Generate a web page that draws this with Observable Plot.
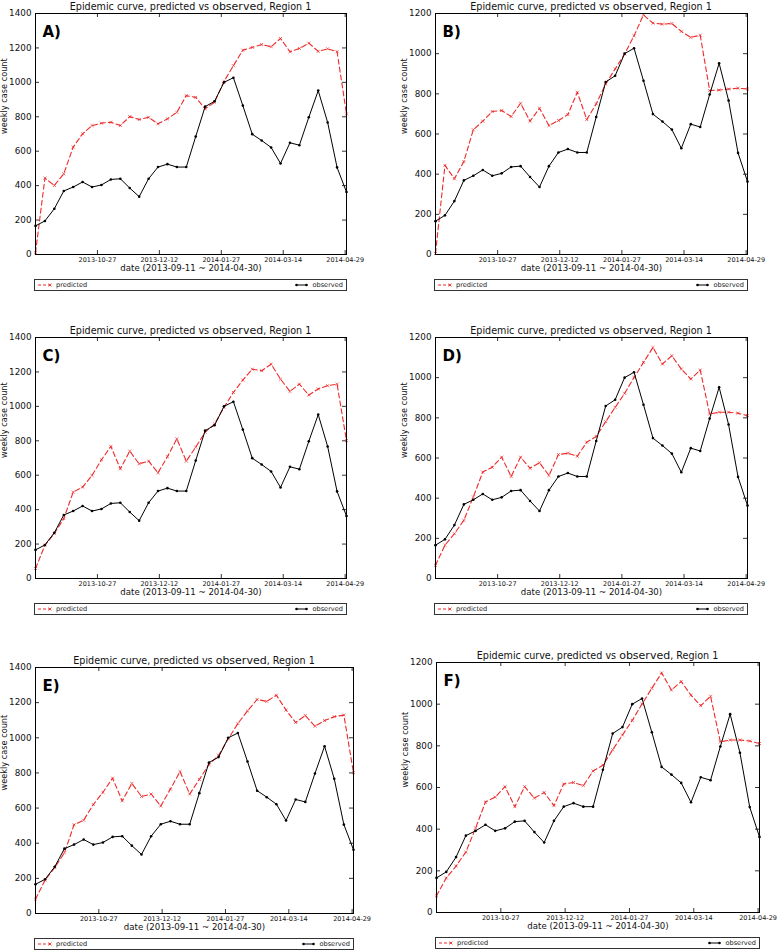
<!DOCTYPE html>
<html>
<head>
<meta charset="utf-8">
<script src="https://cdn.jsdelivr.net/npm/d3@7"></script>
<script src="https://cdn.jsdelivr.net/npm/@observablehq/plot@0.6"></script>
<style>
  html, body { margin: 0; padding: 0; background: #fff; }
  #wrap { position: relative; width: 777px; height: 951px; overflow: hidden; font-family: "DejaVu Sans", sans-serif; color: #111; }
  .svgbox { position: absolute; }
  .title { position: absolute; white-space: nowrap; transform: translate(-50%, -50%); font-size: 9.6px; line-height: 1; }
  .title .big { font-size: 11px; }
  .legend { position: absolute; box-sizing: border-box; border: 1px solid #333; height: 12px; display: flex; justify-content: space-between; align-items: center; padding: 0 3px; font-size: 6.6px; color: #222; }
  .legend .item { display: flex; align-items: center; gap: 4px; }
</style>
</head>
<body>
<div id="wrap"></div>
<script>
// ---- data ----
const startDate = "2013-09-11";
const titleText = ["Epidemic curve, predicted vs ", "observed", ", Region 1"];
const xLabel = "date (2013-09-11 ~ 2014-04-30)";
const yLabel = "weekly case count";
const xTickLabels = ["2013-10-27", "2013-12-12", "2014-01-27", "2014-03-14", "2014-04-29"];
const yTicks1400 = [0, 200, 400, 600, 800, 1000, 1200, 1400];
const yTicks1200 = [0, 200, 400, 600, 800, 1000, 1200];
const panelLetters = ["A)", "B)", "C)", "D)", "E)", "F)"];
const seriesNames = ["predicted", "observed"];

const observed = [166, 195, 266, 369, 392, 421, 392, 404, 436, 440, 386, 336, 440, 508, 525, 508, 508, 685, 859, 890, 1000, 1027, 865, 699, 662, 622, 529, 649, 635, 797, 952, 767, 506, 363];

const predictedA = [10, 444, 401, 469, 624, 701, 749, 763, 768, 749, 801, 784, 797, 759, 788, 826, 923, 913, 846, 885, 1005, 1097, 1187, 1203, 1220, 1207, 1255, 1178, 1197, 1228, 1180, 1195, 1178, 817];
const predictedB = [5, 444, 377, 463, 621, 664, 712, 717, 687, 753, 664, 728, 642, 667, 697, 808, 672, 750, 849, 924, 998, 1089, 1193, 1152, 1147, 1150, 1111, 1081, 1092, 816, 819, 824, 828, 824];
const predictedC = [58, 193, 261, 348, 502, 531, 599, 690, 767, 637, 740, 666, 682, 614, 708, 811, 682, 763, 850, 898, 994, 1081, 1153, 1216, 1207, 1245, 1158, 1087, 1129, 1066, 1101, 1120, 1129, 801];
const predictedD = [66, 166, 223, 290, 406, 530, 554, 604, 508, 604, 549, 576, 513, 617, 624, 609, 679, 707, 781, 852, 922, 1001, 1076, 1150, 1068, 1109, 1043, 993, 1038, 819, 828, 828, 823, 811];
const predictedE = [82, 190, 262, 345, 505, 531, 620, 690, 770, 641, 740, 666, 680, 612, 708, 808, 680, 763, 848, 900, 994, 1081, 1153, 1218, 1207, 1242, 1158, 1087, 1127, 1066, 1098, 1120, 1129, 801];
const predictedF = [80, 166, 223, 290, 406, 530, 554, 604, 508, 604, 549, 576, 513, 617, 624, 609, 679, 707, 781, 852, 922, 1001, 1076, 1150, 1068, 1109, 1043, 993, 1038, 819, 828, 828, 823, 811];

// ---- layout (plot frame boxes, page coordinates) ----
const RED = "#ee2b2b";
const panels = [
  {letter: panelLetters[0], pred: predictedA, yTicks: yTicks1400, L: 35,  R: 346, T: 13,  B: 254},
  {letter: panelLetters[1], pred: predictedB, yTicks: yTicks1200, L: 435, R: 747, T: 13,  B: 254},
  {letter: panelLetters[2], pred: predictedC, yTicks: yTicks1400, L: 35,  R: 346, T: 337, B: 578},
  {letter: panelLetters[3], pred: predictedD, yTicks: yTicks1200, L: 435, R: 747, T: 337, B: 578},
  {letter: panelLetters[4], pred: predictedE, yTicks: yTicks1400, L: 35,  R: 353, T: 667, B: 913},
  {letter: panelLetters[5], pred: predictedF, yTicks: yTicks1200, L: 436, R: 759, T: 662, B: 912}
];

const parse = d3.utcParse("%Y-%m-%d");
const start = parse(startDate);
const dates = observed.map((_, i) => d3.utcDay.offset(start, 7 * i));
const xTickDates = xTickLabels.map(parse);

const wrap = document.getElementById("wrap");

function drawPanel(p) {
  const W = p.R - p.L, H = p.B - p.T;
  const mL = 40, mR = 14, mT = 14, mB = 26;
  const rows = dates.map((d, i) => ({date: d, obs: observed[i], pred: p.pred[i]}));
  const ymax = p.yTicks[p.yTicks.length - 1];
  const chart = Plot.plot({
    width: W + mL + mR,
    height: H + mT + mB,
    marginLeft: mL, marginRight: mR, marginTop: mT, marginBottom: mB,
    style: {fontFamily: "DejaVu Sans, sans-serif", background: "transparent", overflow: "visible", color: "#111"},
    x: {type: "utc", domain: [dates[0], dates[dates.length - 1]]},
    y: {domain: [0, ymax]},
    marks: [
      Plot.axisY({ticks: p.yTicks, tickSize: 0, tickPadding: 4, fontSize: 8.8, label: null, tickFormat: d => String(d)}),
      Plot.axisX({ticks: xTickDates, tickSize: 0, tickPadding: 3, fontSize: 6.5, label: null, tickFormat: (d, i) => xTickLabels[i]}),
      Plot.tickY(p.yTicks, {y: d => d, insetRight: W - 4, stroke: "#000", strokeWidth: 0.8}),
      Plot.tickY(p.yTicks, {y: d => d, insetLeft: W - 4, stroke: "#000", strokeWidth: 0.8}),
      Plot.tickX(xTickDates, {x: d => d, insetTop: H - 4, stroke: "#000", strokeWidth: 0.8}),
      Plot.tickX(xTickDates, {x: d => d, insetBottom: H - 4, stroke: "#000", strokeWidth: 0.8}),
      Plot.line(rows, {x: "date", y: "pred", stroke: RED, strokeWidth: 1.1, strokeDasharray: "5,3"}),
      Plot.dot(rows, {x: "date", y: "pred", symbol: "times", r: 1.5, stroke: RED, strokeWidth: 0.7}),
      Plot.line(rows, {x: "date", y: "obs", stroke: "#000", strokeWidth: 1}),
      Plot.dot(rows, {x: "date", y: "obs", r: 1.3, fill: "#000", stroke: null}),
      Plot.frame({stroke: "#000", strokeWidth: 1}),
      Plot.text([p.letter], {text: d => d, frameAnchor: "top-left", textAnchor: "start", lineAnchor: "middle", dx: 7, dy: 19, fontSize: 15, fontWeight: "bold", fill: "#000"}),
      Plot.text([xLabel], {text: d => d, frameAnchor: "bottom", lineAnchor: "middle", dy: 14, fontSize: 8.6, fill: "#111"}),
      Plot.text([yLabel], {text: d => d, frameAnchor: "left", rotate: -90, lineAnchor: "middle", dx: -31, fontSize: 8.2, fill: "#111"})
    ]
  });
  const box = document.createElement("div");
  box.className = "svgbox";
  box.style.left = (p.L - mL) + "px";
  box.style.top = (p.T - mT) + "px";
  box.appendChild(chart);
  wrap.appendChild(box);

  // title
  const t = document.createElement("div");
  t.className = "title";
  t.style.left = ((p.L + p.R) / 2) + "px";
  t.style.top = (p.T - 7) + "px";
  t.innerHTML = titleText[0] + '<span class="big">' + titleText[1] + '</span>' + titleText[2];
  wrap.appendChild(t);

  // legend
  const lg = document.createElement("div");
  lg.className = "legend";
  lg.style.left = (p.L - 1) + "px";
  lg.style.top = (p.B + 25) + "px";
  lg.style.width = (W + 2) + "px";
  lg.innerHTML =
    '<div class="item"><svg width="14" height="6"><line x1="0" y1="3" x2="14" y2="3" stroke="' + RED + '" stroke-dasharray="3,2" stroke-width="1"/>' +
    '<path d="M10.5,1.5L13.5,4.5M13.5,1.5L10.5,4.5" stroke="' + RED + '" stroke-width="0.8"/></svg><span>' + seriesNames[0] + '</span></div>' +
    '<div class="item"><svg width="13" height="6"><line x1="1.5" y1="3" x2="11.5" y2="3" stroke="#000" stroke-width="1"/>' +
    '<circle cx="1.5" cy="3" r="1.3" fill="#000"/><circle cx="11.5" cy="3" r="1.3" fill="#000"/></svg><span>' + seriesNames[1] + '</span></div>';
  wrap.appendChild(lg);
}

panels.forEach(drawPanel);
</script>
</body>
</html>
